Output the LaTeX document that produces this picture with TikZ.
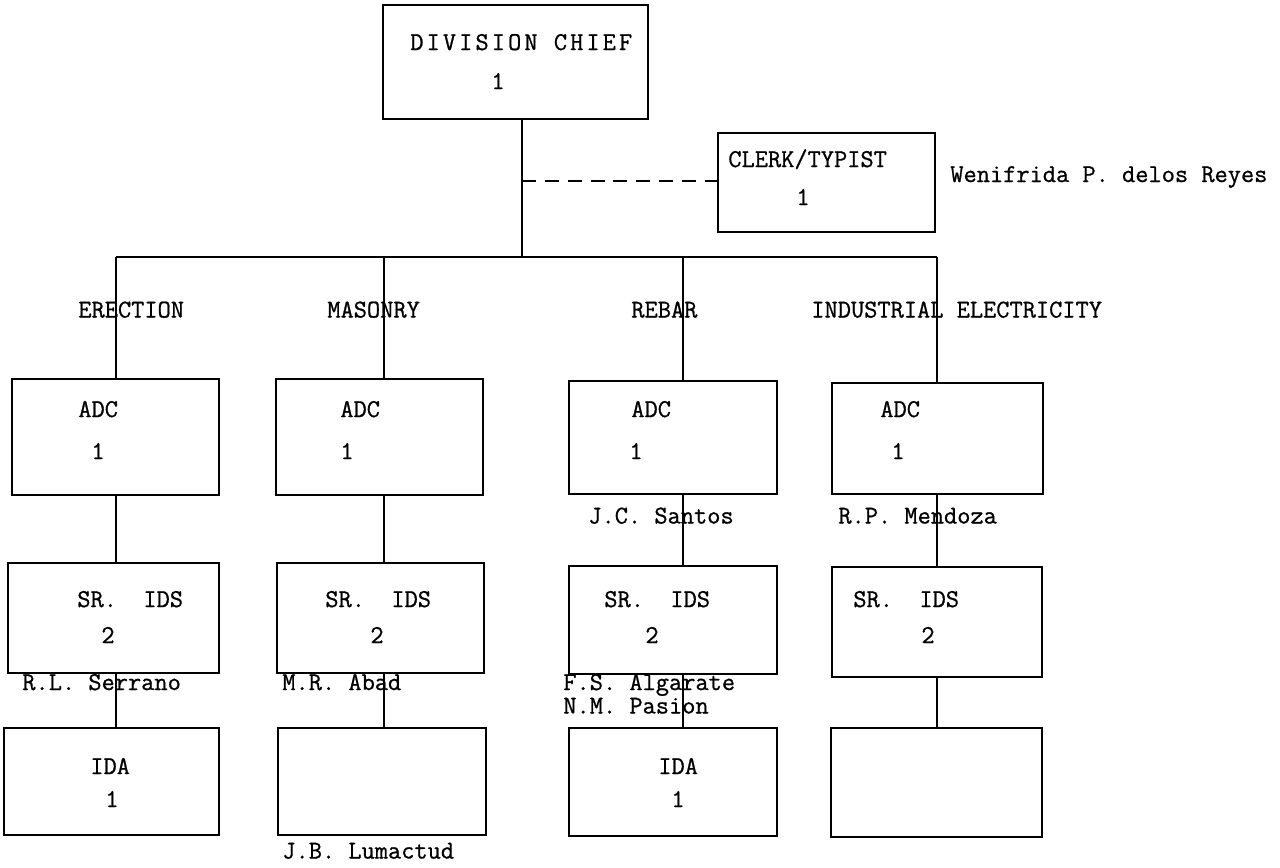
\documentclass[tikz,border=0pt]{standalone}
\usepackage{fontspec}
\newfontfamily\monofont[FakeBold=0.8]{Latin Modern Mono}
\newfontfamily\monowide[LetterSpace=12,FakeBold=0.8]{Latin Modern Mono}
\usetikzlibrary{fit}
\begin{document}
\begin{tikzpicture}[x=0.02cm,y=-0.02cm,
  box/.style={draw, line width=0.85pt, inner sep=0pt, fit={#1}},
  conn/.style={draw, line width=0.85pt},
  dashline/.style={draw, line width=0.85pt, dash pattern=on 8pt off 5pt},
  txt/.style={font=\fontsize{14.6pt}{16pt}\monofont, inner sep=0pt, anchor=base west},
  num/.style={font=\fontsize{14.6pt}{16pt}\monofont, inner sep=0pt, anchor=base},
  widetxt/.style={font=\fontsize{14.6pt}{16pt}\monowide, inner sep=0pt, anchor=base west}]
\useasboundingbox[fill=white] (0,0) rectangle (1280,867);

% boxes
\node[box={(383,5) (648,119)}] (dc) {};
\node[box={(718,133) (935,232)}] (ct) {};
\node[box={(12,379) (219,495)}] (a1) {};
\node[box={(276,379) (483,495)}] (a2) {};
\node[box={(569,381) (777,494)}] (a3) {};
\node[box={(832,383) (1043,494)}] (a4) {};
\node[box={(8,563) (219,673)}] (s1) {};
\node[box={(277,563) (484,673)}] (s2) {};
\node[box={(569,566) (777,674)}] (s3) {};
\node[box={(832,567) (1042,677)}] (s4) {};
\node[box={(4,728) (219,835)}] (i1) {};
\node[box={(278,728) (486,835)}] (i2) {};
\node[box={(569,728) (777,836)}] (i3) {};
\node[box={(831,728) (1042,837)}] (i4) {};

% connector coordinates
\coordinate (tr) at (522,257);
\coordinate (dj) at (522,181);
\coordinate (b1) at (116,257);
\coordinate (b2) at (384,257);
\coordinate (b3) at (683,257);
\coordinate (b4) at (937,257);

% connectors
\draw[conn] (dc.south -| tr) -- (tr);
\draw[dashline] (dj) -- (dj -| ct.west);
\draw[conn] (b1) -- (b4);
\draw[conn] (b1) -- (b1 |- a1.north);
\draw[conn] (b2) -- (b2 |- a2.north);
\draw[conn] (b3) -- (b3 |- a3.north);
\draw[conn] (b4) -- (b4 |- a4.north);
\draw[conn] (a1.south -| b1) -- (s1.north -| b1);
\draw[conn] (a2.south -| b2) -- (s2.north -| b2);
\draw[conn] (a3.south -| b3) -- (s3.north -| b3);
\draw[conn] (a4.south -| b4) -- (s4.north -| b4);
\draw[conn] (s1.south -| b1) -- (i1.north -| b1);
\draw[conn] (s2.south -| b2) -- (i2.north -| b2);
\draw[conn] (s3.south -| b3) -- (i3.north -| b3);
\draw[conn] (s4.south -| b4) -- (i4.north -| b4);

% texts
\node[widetxt] (tdc) at (410,50) {DIVISION CHIEF};
\node[num] (ndc) at (498,89) {1};
\node[txt] (tct) at (728,167) {CLERK/TYPIST};
\node[num] (nct) at (803,205) {1};
\node[txt] (wpr) at (950,182) {Wenifrida P. delos Reyes};

\node[txt] (l1) at (78,317.5) {ERECTION};
\node[txt] (l2) at (327,317.5) {MASONRY};
\node[txt] (l3) at (631,317.5) {REBAR};
\node[txt] (l4) at (811,317.5) {INDUSTRIAL ELECTRICITY};

\node[txt] (ta1) at (78,417) {ADC};
\node[txt] (ta2) at (340,417) {ADC};
\node[txt] (ta3) at (631,417) {ADC};
\node[txt] (ta4) at (880,417) {ADC};
\node[num] (na1) at (98,459) {1};
\node[num] (na2) at (347,459) {1};
\node[num] (na3) at (636,459) {1};
\node[num] (na4) at (898,459) {1};
\node[txt] (jcs) at (588,523.5) {J.C. Santos};
\node[txt] (rpm) at (838,523.5) {R.P. Mendoza};

\node[txt] (ts1) at (77,607) {SR.\ \ IDS};
\node[txt] (ts2) at (325,607) {SR.\ \ IDS};
\node[txt] (ts3) at (604,607) {SR.\ \ IDS};
\node[txt] (ts4) at (853,607) {SR.\ \ IDS};
\node[num] (ns1) at (108,643) {2};
\node[num] (ns2) at (377,643) {2};
\node[num] (ns3) at (652,643) {2};
\node[num] (ns4) at (928,643) {2};
\node[txt] (rls) at (22,690) {R.L. Serrano};
\node[txt] (mra) at (282,690) {M.R. Abad};
\node[txt] (fsa) at (563,690) {F.S. Algarate};
\node[txt] (nmp) at (563,713.5) {N.M. Pasion};

\node[txt] (ti1) at (90,774) {IDA};
\node[txt] (ti3) at (658,774) {IDA};
\node[num] (ni1) at (112,807) {1};
\node[num] (ni3) at (678,807) {1};
\node[txt] (jbl) at (282,858.5) {J.B. Lumactud};
\end{tikzpicture}
\end{document}
